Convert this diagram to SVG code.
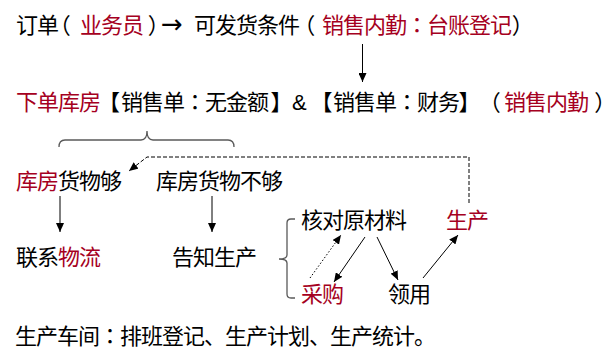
<svg xmlns="http://www.w3.org/2000/svg" width="614" height="358" viewBox="0 0 614 358">
<style>
text { font-family: "Noto Sans CJK SC", "Noto Sans", sans-serif; font-size: 22px; letter-spacing: -1px; fill: #000; }
.r { fill: #A50021; }
.c { font-family: "Noto Sans CJK TC", "Noto Sans CJK SC", sans-serif; }
.p { font-feature-settings: "palt" 1; letter-spacing: 0; text-anchor: middle; }
.lat { font-family: "Liberation Sans", sans-serif; letter-spacing: 0; }
.arr { font-family: "DejaVu Sans", sans-serif; font-size: 26px; letter-spacing: 0; }
.conn { stroke: #000; stroke-width: 1; fill: none; }
.brace { stroke: #595959; stroke-width: 1.3; fill: none; }
</style>
<defs>
<marker id="ah" viewBox="0 0 10 10" refX="10" refY="5" markerWidth="9" markerHeight="8" markerUnits="userSpaceOnUse" orient="auto" preserveAspectRatio="none"><path d="M0,0 L10,5 L0,10 z" fill="#000"/></marker>
</defs>
<rect width="614" height="358" fill="#fff"/>
<g id="order">
<text x="16" y="33">订单</text>
<text x="64.5" y="33" class="p">（</text>
<text x="80" y="33" class="r">业务员</text>
<text x="154" y="33" class="p">）</text>
<text x="161" y="33" class="arr">→</text>
<text x="194" y="33">可发货条件</text>
<text x="309" y="33" class="p">（</text>
<text x="322" y="33" class="r">销售内勤<tspan class="c">：</tspan>台账登记</text>
<text x="518" y="33" class="p">）</text>
</g>
<g id="xiadan">
<text x="16" y="110" class="r">下单库房</text>
<text x="114" y="110" class="p">【</text>
<text x="121" y="110">销售单<tspan class="c">：</tspan>无金额</text>
<text x="276.5" y="110" class="p">】</text>
<text x="292" y="110" class="lat">&amp;</text>
<text x="326.5" y="110" class="p">【</text>
<text x="333" y="110">销售单<tspan class="c">：</tspan>财务</text>
<text x="464.5" y="110" class="p">】</text>
<text x="494.5" y="110" class="p">（</text>
<text x="504" y="110" class="r">销售内勤</text>
<text x="600.5" y="110" class="p">）</text>
</g>
<g id="enough"><text x="16" y="189"><tspan class="r">库房</tspan>货物够</text></g>
<g id="notenough"><text x="156" y="189">库房货物不够</text></g>
<g id="wuliu"><text x="16" y="265">联系<tspan class="r">物流</tspan></text></g>
<g id="notify"><text x="172" y="265">告知生产</text></g>
<g id="check"><text x="301" y="228">核对原材料</text></g>
<g id="produce"><text x="446" y="228" class="r">生产</text></g>
<g id="purchase"><text x="301" y="302" class="r">采购</text></g>
<g id="use"><text x="388" y="302">领用</text></g>
<g id="workshop"><text x="15" y="344">生产车间<tspan class="c">：</tspan>排班登记、生产计划、生产统计。</text></g>
<g id="connectors">
<path class="conn" d="M362.5,44 V82" marker-end="url(#ah)"/>
<path class="brace" d="M59,147 Q59,140 65,140 H141 Q147,140 147,131 Q147,140 153,140 H228 Q234,140 234,147"/>
<path class="conn" d="M60,196 V232" marker-end="url(#ah)"/>
<path class="conn" d="M212,196 V232" marker-end="url(#ah)"/>
<path class="conn" d="M469,203 V157 H147 L129,171" stroke-dasharray="4,2" marker-end="url(#ah)"/>
<path class="brace" d="M295,219 H291 Q287,219 287,223 V255 Q287,259 279,259 Q287,259 287,263 V294 Q287,298 291,298 H295"/>
<path class="conn" d="M310,278 L341,235" stroke-dasharray="1.5,2" marker-end="url(#ah)"/>
<path class="conn" d="M365,237 L334,282" marker-end="url(#ah)"/>
<path class="conn" d="M377,237 L398,280" marker-end="url(#ah)"/>
<path class="conn" d="M423,278 L458,235" marker-end="url(#ah)"/>
</g>
</svg>
